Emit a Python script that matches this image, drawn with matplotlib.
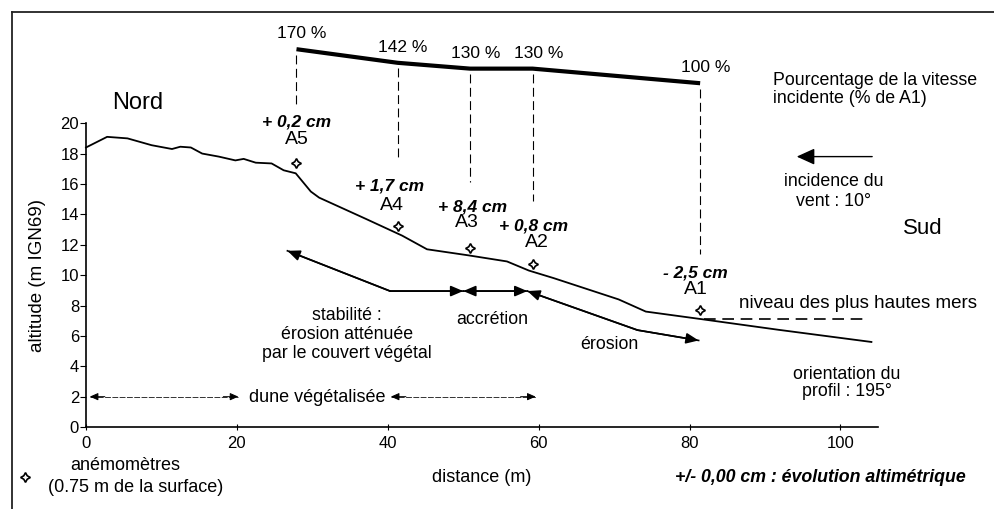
import matplotlib
matplotlib.use('Agg')
import matplotlib.pyplot as plt
from matplotlib.lines import Line2D

plt.rcParams['font.family'] = ['Liberation Sans', 'DejaVu Sans']

# dune profile (distance m, altitude m IGN69)
profile_x = [0, 2.8, 5.5, 8.7, 11.4, 12.5, 13.9, 15.4, 17.6, 19.8, 20.9, 22.5,
             24.6, 26.2, 27.8, 29.8, 30.9, 37.1, 41.9, 45.2, 50.7, 55.8, 58.7,
             62.0, 70.6, 74.2, 81.6, 91.8, 104.1]
profile_y = [18.4, 19.1, 19.0, 18.55, 18.3, 18.45, 18.4, 18.0, 17.8, 17.55,
             17.65, 17.4, 17.35, 16.9, 16.7, 15.5, 15.1, 13.7, 12.6, 11.7, 11.3,
             10.9, 10.3, 9.8, 8.4, 7.6, 7.1, 6.4, 5.6]

# anemometers
anemo_names = ['A5', 'A4', 'A3', 'A2', 'A1']
anemo_x = [27.9, 41.3, 50.9, 59.2, 81.4]
anemo_y = [17.35, 13.2, 11.8, 10.7, 7.7]
anemo_change = ['+ 0,2 cm', '+ 1,7 cm', '+ 8,4 cm', '+ 0,8 cm', '- 2,5 cm']
vel_pct = [170, 142, 130, 130, 100]

# annotation lines
stab_x = [50.0, 40.3, 26.7]
stab_y = [8.95, 8.95, 11.6]
accr_x = [50.0, 58.5]
accr_y = [8.95, 8.95]
eros_x = [58.5, 73.1, 81.2]
eros_y = [8.95, 6.38, 5.7]
hwl_x = [81.9, 103.4]
hwl_y = [7.1, 7.1]

FS = 12.8


def pct_to_y(p):
    # velocity curve is drawn above the axes
    return 22.63 + (p - 100) * 0.032


def arrow_head(ax, p_from, p_to, lw=1.2, hl=0.75, hw=0.32):
    ax.annotate('', xy=p_to, xytext=p_from, annotation_clip=False,
                arrowprops=dict(arrowstyle='-|>,head_length=%g,head_width=%g' % (hl, hw),
                                color='k', lw=lw, shrinkA=0, shrinkB=0))


fig = plt.figure(figsize=(9.94, 5.09), dpi=100)
ax = fig.add_axes([0.0865, 0.161, 0.797, 0.597])
ax.set_xlim(0, 105)
ax.set_ylim(0, 20)
for s in ['top', 'right']:
    ax.spines[s].set_visible(False)
ax.spines['left'].set_linewidth(1.2)
ax.spines['bottom'].set_linewidth(1.2)
ax.set_xticks([0, 20, 40, 60, 80, 100])
ax.set_yticks(range(0, 21, 2))
ax.tick_params(axis='y', direction='out', length=4, labelsize=12, pad=1)
ax.tick_params(axis='x', direction='inout', length=5, labelsize=12, pad=4)

# frame of the figure (top and left edges only visible)
fig.add_artist(Line2D([0.012, 1.0], [0.976, 0.976], color='#222', lw=1.3))
fig.add_artist(Line2D([0.012, 0.012], [0.0, 0.976], color='#222', lw=1.3))

# profile
ax.plot(profile_x, profile_y, color='k', lw=1.3, clip_on=False)

# velocity curve and labels
vel_y = [pct_to_y(p) for p in vel_pct]
ax.plot(anemo_x, vel_y, color='k', lw=3, clip_on=False, solid_capstyle='butt')
for x, y, p in zip(anemo_x, vel_y, vel_pct):
    ax.annotate('%d %%' % p, (x, y), xytext=(4, 11), textcoords='offset points',
                ha='center', va='center', fontsize=12.5, annotation_clip=False)

# dashed verticals down to the anemometers
drop_bottom = [21.2, 17.8, 16.1, 14.9, 11.4]
for x, y, b in zip(anemo_x, vel_y, drop_bottom):
    ax.plot([x, x], [y - 0.35, b], color='k', lw=0.8, ls=(0, (8, 4)), clip_on=False)

# anemometers
ax.plot(anemo_x, anemo_y, ls='none', marker=(4, 1, 0), ms=7, mfc='white',
        mec='k', mew=1.2, clip_on=False)
change_pos = [(27.9, 20.1), (40.3, 15.85), (51.2, 14.5), (59.3, 13.25), (80.8, 10.15)]
name_pos = [(27.9, 18.9), (40.6, 14.6), (50.5, 13.45), (59.8, 12.15), (80.8, 9.05)]
for n, c, cp, npos in zip(anemo_names, anemo_change, change_pos, name_pos):
    ax.text(cp[0], cp[1], c, ha='center', va='center', fontsize=12.5,
            fontweight='bold', fontstyle='italic', clip_on=False)
    ax.text(npos[0], npos[1], n, ha='center', va='center', fontsize=14, clip_on=False)

# stability / accretion / erosion arrows
ax.plot(stab_x, stab_y, color='k', lw=1.2)
arrow_head(ax, (stab_x[1], stab_y[1]), (stab_x[2], stab_y[2]))
arrow_head(ax, (stab_x[1], stab_y[1]), (stab_x[0], stab_y[0]))
arrow_head(ax, (accr_x[1], accr_y[1]), (accr_x[0], accr_y[0]))
arrow_head(ax, (accr_x[0], accr_y[0]), (accr_x[1], accr_y[1]))
ax.plot(eros_x, eros_y, color='k', lw=1.2)
arrow_head(ax, (eros_x[1], eros_y[1]), (eros_x[0], eros_y[0]))
arrow_head(ax, (eros_x[1], eros_y[1]), (eros_x[2], eros_y[2]))

ax.text(34.6, 6.1, 'stabilité :\nérosion atténuée\npar le couvert végétal',
        ha='center', va='center', fontsize=FS, linespacing=1.15)
ax.text(53.8, 7.1, 'accrétion', ha='center', va='center', fontsize=FS)
ax.text(69.4, 5.46, 'érosion', ha='center', va='center', fontsize=FS)

# highest sea level
ax.plot(hwl_x, hwl_y, color='k', lw=1.2, ls=(0, (7, 4)), clip_on=False)
ax.text(86.5, 8.16, 'niveau des plus hautes mers', ha='left', va='center',
        fontsize=13.5, clip_on=False)

# vegetated dune extent
for x0, x1 in [(0.5, 20.2), (40.4, 59.6)]:
    ax.plot([x0, x1], [2, 2], color='#333', lw=0.7, ls=(0, (6, 1.5)))
    arrow_head(ax, (x0 + 2, 2), (x0, 2), lw=0.7, hl=0.5, hw=0.22)
    arrow_head(ax, (x1 - 2, 2), (x1, 2), lw=0.7, hl=0.5, hw=0.22)
ax.text(30.6, 1.97, 'dune végétalisée', ha='center', va='center', fontsize=13)

# wind incidence
ax.annotate('', xy=(94.2, 17.8), xytext=(104.2, 17.8), annotation_clip=False,
            arrowprops=dict(arrowstyle='-|>,head_length=1.1,head_width=0.5',
                            color='k', lw=1.0, shrinkA=0, shrinkB=0))
ax.text(99.1, 15.5, 'incidence du\nvent : 10°', ha='center', va='center',
        fontsize=FS, linespacing=1.2, clip_on=False)

ax.text(91.1, 22.2, 'Pourcentage de la vitesse\nincidente (% de A1)', ha='left',
        va='center', fontsize=FS, linespacing=1.05, clip_on=False)
ax.text(6.8, 21.3, 'Nord', ha='center', va='center', fontsize=17, clip_on=False)
ax.text(110.9, 13.1, 'Sud', ha='center', va='center', fontsize=16, clip_on=False)
ax.text(100.8, 2.9, 'orientation du\nprofil : 195°', ha='center', va='center',
        fontsize=FS, linespacing=1.05, clip_on=False)

# axis labels and legend
ax.text(-6.4, 10, 'altitude (m IGN69)', rotation=90, ha='center', va='center',
        fontsize=13.5, clip_on=False)
ax.text(52.5, -3.3, 'distance (m)', ha='center', va='center', fontsize=13, clip_on=False)
ax.text(97.3, -3.3, '+/- 0,00 cm : évolution altimétrique', ha='center',
        va='center', fontsize=12.8, fontweight='bold', fontstyle='italic', clip_on=False)
ax.plot([-8.1], [-3.3], ls='none', marker=(4, 1, 0), ms=7, mfc='white',
        mec='k', mew=1.2, clip_on=False)
ax.text(5.2, -2.5, 'anémomètres', ha='center', va='center', fontsize=13, clip_on=False)
ax.text(6.6, -3.95, '(0.75 m de la surface)', ha='center', va='center',
        fontsize=13, clip_on=False)

fig.savefig('out.png', dpi=100)
